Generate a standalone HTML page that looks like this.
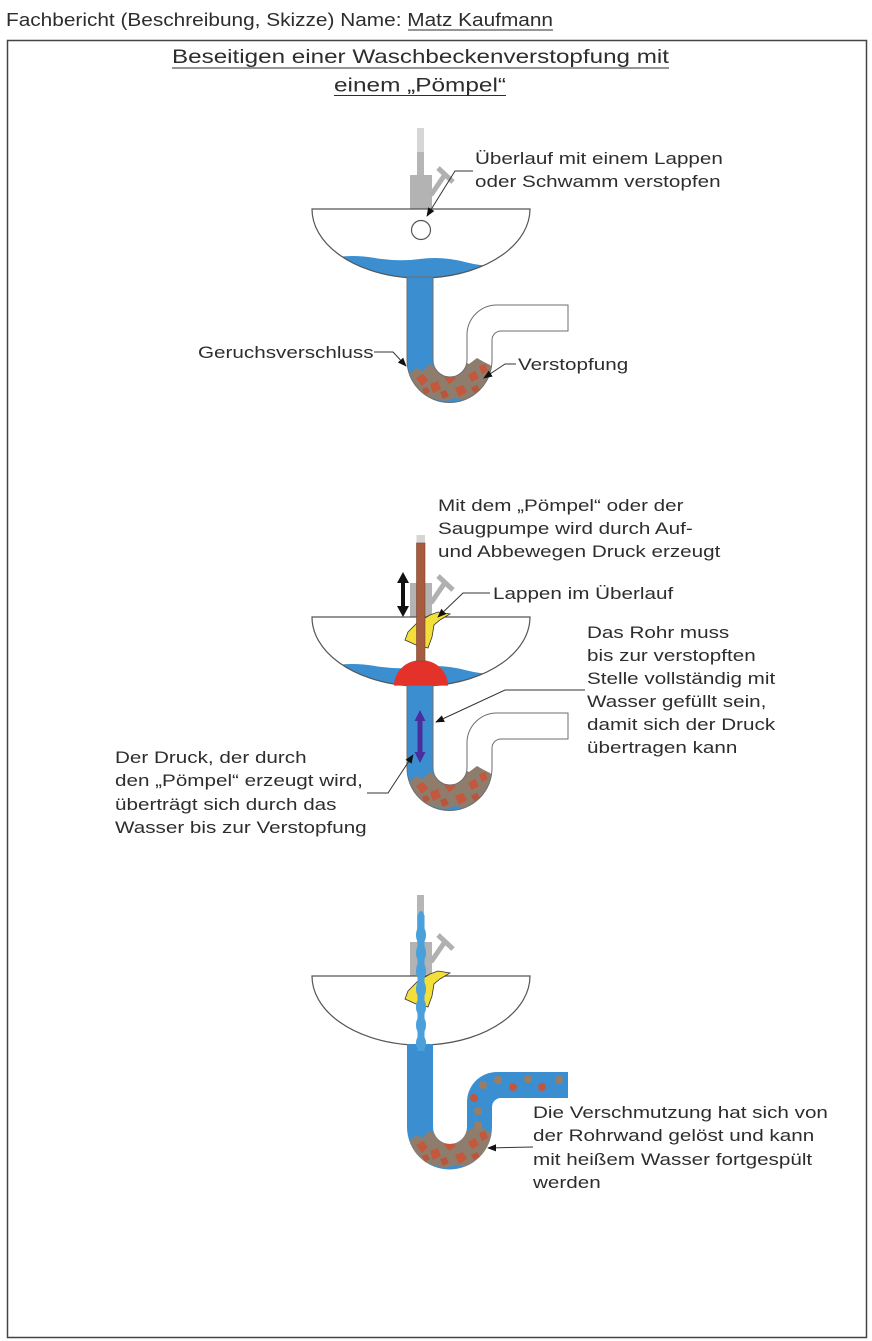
<!DOCTYPE html>
<html><head><meta charset="utf-8">
<style>
html,body{margin:0;padding:0;background:#fff;}
svg{display:block;}
text{font-family:"Liberation Sans",Arial,sans-serif;fill:#2d2d2d;}
</style></head>
<body>
<svg width="872" height="1341" viewBox="0 0 872 1341" xmlns="http://www.w3.org/2000/svg">
<defs>
  <marker id="ah" viewBox="0 0 10 10" refX="9" refY="5" markerWidth="9" markerHeight="9" orient="auto" markerUnits="userSpaceOnUse">
    <path d="M0,1 L10,5 L0,9 z" fill="#111"/>
  </marker>
  <path id="pipe" d="M407,277 L407,360 A42.5,42.5 0 0 0 492,360 L492,340 A9,9 0 0 1 501,331 L568,331 L568,305 L497,305 A30,30 0 0 0 467,335 L467,360 A17,17 0 0 1 433,360 L433,277 Z"/>
  <clipPath id="pipeclip"><path d="M407,277 L407,360 A42.5,42.5 0 0 0 492,360 L492,340 A9,9 0 0 1 501,331 L568,331 L568,305 L497,305 A30,30 0 0 0 467,335 L467,360 A17,17 0 0 1 433,360 L433,277 Z"/></clipPath>
  <clipPath id="basinclip"><path d="M312,209 L530,209 A109,69 0 0 1 433,277.6 L407,277.6 A109,69 0 0 1 312,209 Z"/></clipPath>
  <g id="basin">
    <path d="M312,209 L530,209 A109,69 0 0 1 433,277.6 L407,277.6 A109,69 0 0 1 312,209 Z" fill="#fff"/>
  </g>
  <path id="basinstroke" d="M433,277.6 A109,69 0 0 0 530,209 L312,209 A109,69 0 0 0 407,277.6" fill="none" stroke="#555" stroke-width="1.2"/>
  <g id="handle">
    <rect x="410" y="175" width="22" height="34" fill="#b3b3b3"/>
    <path d="M431,195 L444,176" stroke="#b0b0b0" stroke-width="5" fill="none"/>
    <path d="M438,168 L453,182" stroke="#b0b0b0" stroke-width="5" fill="none"/>
  </g>
  <path id="water" d="M330,258 Q352,254 375,258 T420,259 T465,262 T510,265 L520,300 L320,300 Z" fill="#3b8fd0"/>
  <g id="debris">
    <path d="M410,374 L416,368 L423,371 L429,364 L437,367 L445,362 L453,366 L461,360 L469,364 L477,358 L484,362 L490,365 L494,369 L494,382 L487,392 L477,397 L466,400 L455,398 L444,401 L432,398 L420,393 L410,386 Z" fill="#8e7d6c"/>
    <path d="M416,378 l7,-4 l5,6 l-6,6 z" fill="#c4573c"/>
    <path d="M430,384 l8,-3 l3,8 l-8,4 z" fill="#c4573c"/>
    <path d="M444,377 l7,-5 l5,7 l-7,5 z" fill="#c4573c"/>
    <path d="M455,388 l8,-3 l4,7 l-8,5 z" fill="#c4573c"/>
    <path d="M468,375 l7,-4 l4,7 l-7,4 z" fill="#c4573c"/>
    <path d="M479,366 l6,-2 l3,7 l-6,3 z" fill="#c4573c"/>
    <path d="M440,392 l6,-2 l3,6 l-6,3 z" fill="#b8553d"/>
    <path d="M422,389 l5,-2 l3,5 l-5,3 z" fill="#b8553d"/>
    <path d="M471,388 l6,-3 l3,5 l-6,3 z" fill="#b8553d"/>
  </g>
  <g id="rag">
    <path d="M408,224 L418,214 L430,207 L438,204 L450,206 L440,212 L434,217 L432,229 L428,240 L416,237 L405,232 Z" fill="#f2df3a" stroke="#333" stroke-width="0.8"/>
  </g>
</defs>

<!-- header -->
<text x="6" y="26" font-size="18.5" textLength="547" lengthAdjust="spacingAndGlyphs">Fachbericht (Beschreibung, Skizze) Name: Matz Kaufmann</text>
<line x1="408" y1="30" x2="553" y2="30" stroke="#2d2d2d" stroke-width="1"/>

<!-- frame -->
<rect x="7.5" y="40.5" width="859" height="1297" fill="none" stroke="#444" stroke-width="1.5"/>

<!-- title -->
<text x="172" y="63" font-size="19.5" textLength="497" lengthAdjust="spacingAndGlyphs">Beseitigen einer Waschbeckenverstopfung mit</text>
<line x1="172" y1="68" x2="669" y2="68" stroke="#2d2d2d" stroke-width="1"/>
<text x="334" y="91.5" font-size="19.5" textLength="172" lengthAdjust="spacingAndGlyphs">einem „Pömpel“</text>
<line x1="334" y1="95.5" x2="506" y2="95.5" stroke="#2d2d2d" stroke-width="1"/>

<!-- ============ DIAGRAM 1 ============ -->
<g>
  <rect x="417" y="128" width="7" height="24" fill="#d6d6d6"/>
  <rect x="417" y="152" width="7" height="23" fill="#b6b6b6"/>
  <use href="#handle"/>
  <use href="#basin"/>
  <g clip-path="url(#basinclip)"><use href="#water"/></g>
  <use href="#basinstroke"/>
  <circle cx="421" cy="230" r="9.5" fill="#fff" stroke="#555" stroke-width="1.2"/>
  <use href="#pipe" fill="#fff"/>
  <g clip-path="url(#pipeclip)">
    <rect x="400" y="276" width="40" height="105" fill="#3b8fd0"/>
    <rect x="400" y="368" width="100" height="50" fill="#3b8fd0"/>
    <use href="#debris"/>
  </g>
  <use href="#pipe" fill="none" stroke="#6e6e6e" stroke-width="1"/>
</g>
<polyline points="473,171 455,171 427,216" fill="none" stroke="#333" stroke-width="1" marker-end="url(#ah)"/>
<polyline points="374,352 393,352 406,366" fill="none" stroke="#333" stroke-width="1" marker-end="url(#ah)"/>
<polyline points="516,364 505,364 484,378" fill="none" stroke="#333" stroke-width="1" marker-end="url(#ah)"/>
<text transform="translate(475,164) scale(1.215,1)" font-size="17">Überlauf mit einem Lappen</text>
<text transform="translate(475,187) scale(1.215,1)" font-size="17">oder Schwamm verstopfen</text>
<text transform="translate(198,358) scale(1.215,1)" font-size="17">Geruchsverschluss</text>
<text transform="translate(518,370) scale(1.215,1)" font-size="17">Verstopfung</text>

<!-- ============ DIAGRAM 2 ============ -->
<g transform="translate(0,408)">
  <use href="#handle"/>
  <use href="#basin"/>
  <g clip-path="url(#basinclip)"><use href="#water"/></g>
  <use href="#basinstroke"/>
  <use href="#pipe" fill="#fff"/>
  <g clip-path="url(#pipeclip)">
    <rect x="400" y="276" width="40" height="105" fill="#3b8fd0"/>
    <rect x="400" y="368" width="100" height="50" fill="#3b8fd0"/>
    <use href="#debris"/>
  </g>
  <use href="#pipe" fill="none" stroke="#6e6e6e" stroke-width="1"/>
  <use href="#rag"/>
  <path d="M394,277.6 A27,25.5 0 0 1 448,277.6 Z" fill="#e2322a"/>
  <rect x="416.5" y="127" width="8.5" height="8" fill="#d6d6d6"/>
  <rect x="416.5" y="135" width="8.5" height="118" fill="#a65c3f" stroke="#7d4430" stroke-width="0.6"/>
  <!-- black double arrow -->
  <polygon points="403,164 409,175 405,175 405,198 409,198 403,209 397,198 401,198 401,175 397,175" fill="#111"/>
  <!-- purple double arrow -->
  <polygon points="420,302 425.5,313 422.5,313 422.5,344 425.5,344 420,355 414.5,344 417.5,344 417.5,313 414.5,313" fill="#4a2e9e"/>
</g>
<polyline points="490,593 463,593 438,617" fill="none" stroke="#333" stroke-width="1" marker-end="url(#ah)"/>
<polyline points="585,690 505,690 436,722" fill="none" stroke="#333" stroke-width="1" marker-end="url(#ah)"/>
<polyline points="367,793 388,793 413,755" fill="none" stroke="#333" stroke-width="1" marker-end="url(#ah)"/>
<text transform="translate(438,511) scale(1.215,1)" font-size="17">Mit dem „Pömpel“ oder der</text>
<text transform="translate(438,534) scale(1.215,1)" font-size="17">Saugpumpe wird durch Auf-</text>
<text transform="translate(438,557) scale(1.215,1)" font-size="17">und Abbewegen Druck erzeugt</text>
<text transform="translate(493,599) scale(1.215,1)" font-size="17">Lappen im Überlauf</text>
<text transform="translate(587,638) scale(1.215,1)" font-size="17">Das Rohr muss</text>
<text transform="translate(587,661) scale(1.215,1)" font-size="17">bis zur verstopften</text>
<text transform="translate(587,684) scale(1.215,1)" font-size="17">Stelle vollständig mit</text>
<text transform="translate(587,707) scale(1.215,1)" font-size="17">Wasser gefüllt sein,</text>
<text transform="translate(587,730) scale(1.215,1)" font-size="17">damit sich der Druck</text>
<text transform="translate(587,753) scale(1.215,1)" font-size="17">übertragen kann</text>
<text transform="translate(115,763) scale(1.215,1)" font-size="17">Der Druck, der durch</text>
<text transform="translate(115,786) scale(1.215,1)" font-size="17">den „Pömpel“ erzeugt wird,</text>
<text transform="translate(115,810) scale(1.215,1)" font-size="17">überträgt sich durch das</text>
<text transform="translate(115,833) scale(1.215,1)" font-size="17">Wasser bis zur Verstopfung</text>

<!-- ============ DIAGRAM 3 ============ -->
<g transform="translate(0,767)">
  <rect x="417" y="128" width="7" height="47" fill="#b6b6b6"/>
  <use href="#handle"/>
  <use href="#basin"/>
  <use href="#basinstroke"/>
  <use href="#rag"/>
  <use href="#pipe" fill="#3b8fd0"/>
  <g clip-path="url(#pipeclip)">
    <use href="#debris"/>
  </g>
  <g>
    <circle cx="483" cy="318" r="4" fill="#9a7d62"/>
    <circle cx="498" cy="313" r="4" fill="#9a7d62"/>
    <circle cx="513" cy="320" r="4" fill="#c4553b"/>
    <circle cx="528" cy="312" r="4" fill="#9a7d62"/>
    <circle cx="542" cy="320" r="4" fill="#c4553b"/>
    <circle cx="559" cy="313" r="4" fill="#9a7d62"/>
    <circle cx="474" cy="331" r="4" fill="#c4553b"/>
    <circle cx="478" cy="344" r="4" fill="#9a7d62"/>
    <circle cx="478" cy="358" r="4" fill="#9a7d62"/>
  </g>
  <!-- water stream -->
  <g fill="#4aa0da">
    <rect x="417.5" y="148" width="7" height="136"/>
    <ellipse cx="421" cy="152" rx="3.5" ry="8"/>
    <ellipse cx="421" cy="168" rx="5" ry="9"/>
    <ellipse cx="421" cy="186" rx="5" ry="9"/>
    <ellipse cx="421" cy="204" rx="5" ry="9"/>
    <ellipse cx="421" cy="222" rx="5" ry="9"/>
    <ellipse cx="421" cy="240" rx="5" ry="9"/>
    <ellipse cx="421" cy="258" rx="5" ry="9"/>
    <ellipse cx="421" cy="276" rx="5" ry="8"/>
  </g>
</g>
<polyline points="533,1147 488,1148" fill="none" stroke="#333" stroke-width="1" marker-end="url(#ah)"/>
<text transform="translate(533,1118) scale(1.215,1)" font-size="17">Die Verschmutzung hat sich von</text>
<text transform="translate(533,1141) scale(1.215,1)" font-size="17">der Rohrwand gelöst und kann</text>
<text transform="translate(533,1165) scale(1.215,1)" font-size="17">mit heißem Wasser fortgespült</text>
<text transform="translate(533,1188) scale(1.215,1)" font-size="17">werden</text>
</svg>
</body></html>
